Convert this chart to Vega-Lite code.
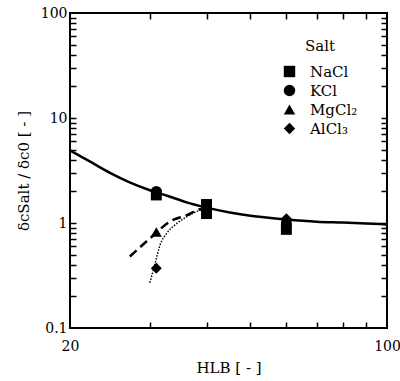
{
  "$schema": "https://vega.github.io/schema/vega-lite/v6.json",
  "width": 317,
  "height": 315,
  "autosize": {"type": "none"},
  "padding": {"left": 70, "top": 13, "right": 13, "bottom": 53},
  "background": "white",
  "config": {
    "font": "DejaVu Serif",
    "view": {"stroke": "black", "strokeWidth": 2},
    "axis": {
      "domain": false,
      "tickWidth": 1.5,
      "tickSize": 6,
      "grid": false,
      "labelFont": "DejaVu Serif",
      "labelFontSize": 14,
      "labelColor": "black",
      "titleFont": "DejaVu Serif",
      "titleFontSize": 15,
      "titleFontWeight": "normal",
      "titleColor": "black"
    }
  },
  "datasets": {
    "fit": [
      {"HLB": 20, "ratio": 4.9},
      {"HLB": 22, "ratio": 3.9},
      {"HLB": 24.5, "ratio": 3.0},
      {"HLB": 27, "ratio": 2.45},
      {"HLB": 30, "ratio": 2.05},
      {"HLB": 33, "ratio": 1.8},
      {"HLB": 36, "ratio": 1.58},
      {"HLB": 40, "ratio": 1.4},
      {"HLB": 45, "ratio": 1.26},
      {"HLB": 50, "ratio": 1.17},
      {"HLB": 60, "ratio": 1.08},
      {"HLB": 70, "ratio": 1.03},
      {"HLB": 80, "ratio": 1.01},
      {"HLB": 90, "ratio": 0.99},
      {"HLB": 100, "ratio": 0.97}
    ],
    "mgcurve": [
      {"HLB": 27.1, "ratio": 0.48},
      {"HLB": 30.3, "ratio": 0.74},
      {"HLB": 33.2, "ratio": 1.03},
      {"HLB": 36.2, "ratio": 1.19},
      {"HLB": 38.7, "ratio": 1.35},
      {"HLB": 40, "ratio": 1.38}
    ],
    "alcurve": [
      {"HLB": 30.0, "ratio": 0.27},
      {"HLB": 30.8, "ratio": 0.41},
      {"HLB": 31.6, "ratio": 0.62},
      {"HLB": 32.7, "ratio": 0.8},
      {"HLB": 34.4, "ratio": 0.99},
      {"HLB": 36.2, "ratio": 1.15},
      {"HLB": 38.4, "ratio": 1.31},
      {"HLB": 40, "ratio": 1.38}
    ],
    "points": [
      {"salt": "MgCl₂", "HLB": 40, "ratio": 1.35},
      {"salt": "MgCl₂", "HLB": 60, "ratio": 1.06},
      {"salt": "AlCl₃", "HLB": 40, "ratio": 1.38},
      {"salt": "AlCl₃", "HLB": 60, "ratio": 1.1},
      {"salt": "MgCl₂", "HLB": 31, "ratio": 0.82},
      {"salt": "AlCl₃", "HLB": 31, "ratio": 0.37},
      {"salt": "KCl", "HLB": 31, "ratio": 2.0},
      {"salt": "KCl", "HLB": 40, "ratio": 1.35},
      {"salt": "KCl", "HLB": 60, "ratio": 1.0},
      {"salt": "NaCl", "HLB": 31, "ratio": 1.85},
      {"salt": "NaCl", "HLB": 40, "ratio": 1.5},
      {"salt": "NaCl", "HLB": 40, "ratio": 1.23},
      {"salt": "NaCl", "HLB": 60, "ratio": 0.87}
    ]
  },
  "layer": [
    {
      "data": {"name": "fit"},
      "mark": {"type": "line", "color": "black", "strokeWidth": 2.5, "interpolate": "monotone"},
      "encoding": {
        "x": {
          "field": "HLB", "type": "quantitative",
          "scale": {"type": "log", "domain": [20, 100], "nice": false},
          "axis": {
            "orient": "bottom",
            "title": "HLB   [ - ]",
            "ticks": false,
            "values": [20, 100],
            "format": "~g",
            "labelFlush": false,
            "labelOverlap": false,
            "labelPadding": 11,
            "titlePadding": 7
          }
        },
        "y": {
          "field": "ratio", "type": "quantitative",
          "scale": {"type": "log", "domain": [0.1, 100], "nice": false},
          "axis": {
            "orient": "left",
            "title": "δcSalt / δc0  [ - ]",
            "ticks": false,
            "values": [0.1, 1, 10, 100],
            "format": "~g",
            "labelFlush": false,
            "labelOverlap": false,
            "labelPadding": 3,
            "titlePadding": 9
          }
        }
      }
    },
    {
      "data": {"name": "mgcurve"},
      "mark": {"type": "line", "color": "black", "strokeWidth": 2.5, "strokeDash": [9, 5], "interpolate": "monotone"},
      "encoding": {
        "x": {
          "field": "HLB", "type": "quantitative",
          "axis": {
            "orient": "top", "offset": -315, "title": null, "labels": false,
            "tickColor": "#000000",
            "values": [30, 40, 50, 60, 70, 80, 90]
          }
        },
        "y": {
          "field": "ratio", "type": "quantitative",
          "axis": {
            "orient": "right", "offset": -317, "title": null, "labels": false,
            "tickColor": "#000000",
            "values": [0.2, 0.3, 0.4, 0.5, 0.6, 0.7, 0.8, 0.9, 1, 2, 3, 4, 5, 6, 7, 8, 9, 10, 20, 30, 40, 50, 60, 70, 80, 90]
          }
        }
      }
    },
    {
      "data": {"name": "alcurve"},
      "mark": {"type": "line", "color": "black", "strokeWidth": 1.5, "strokeDash": [1.5, 1.5], "interpolate": "monotone"},
      "encoding": {
        "x": {
          "field": "HLB", "type": "quantitative",
          "axis": {
            "orient": "bottom", "offset": -315, "title": null, "labels": false,
            "tickColor": "#000000",
            "values": [30, 40, 50, 60, 70, 80, 90]
          }
        },
        "y": {
          "field": "ratio", "type": "quantitative",
          "axis": {
            "orient": "left", "offset": -317, "title": null, "labels": false,
            "tickColor": "#000000",
            "values": [0.2, 0.3, 0.4, 0.5, 0.6, 0.7, 0.8, 0.9, 1, 2, 3, 4, 5, 6, 7, 8, 9, 10, 20, 30, 40, 50, 60, 70, 80, 90]
          }
        }
      }
    },
    {
      "data": {"name": "points"},
      "mark": {"type": "point", "filled": true, "color": "black", "opacity": 1, "size": 120},
      "encoding": {
        "x": {"field": "HLB", "type": "quantitative", "axis": null},
        "y": {"field": "ratio", "type": "quantitative", "axis": null},
        "shape": {
          "field": "salt", "type": "nominal",
          "scale": {"domain": ["NaCl", "KCl", "MgCl₂", "AlCl₃"], "range": ["square", "circle", "triangle-up", "diamond"]},
          "legend": {
            "title": "Salt",
            "orient": "none",
            "legendX": 212,
            "legendY": 26,
            "padding": 0,
            "titleAnchor": "middle",
            "titleFontSize": 15,
            "titleFont": "DejaVu Serif",
            "titleFontWeight": "normal",
            "titleColor": "black",
            "titlePadding": 10,
            "labelFontSize": 15,
            "labelFont": "DejaVu Serif",
            "labelColor": "black",
            "labelOffset": 13,
            "symbolSize": 130,
            "symbolFillColor": "black",
            "symbolStrokeColor": "black",
            "symbolStrokeWidth": 0,
            "rowPadding": 3
          }
        }
      }
    }
  ],
  "resolve": {"axis": {"x": "independent", "y": "independent"}}
}
